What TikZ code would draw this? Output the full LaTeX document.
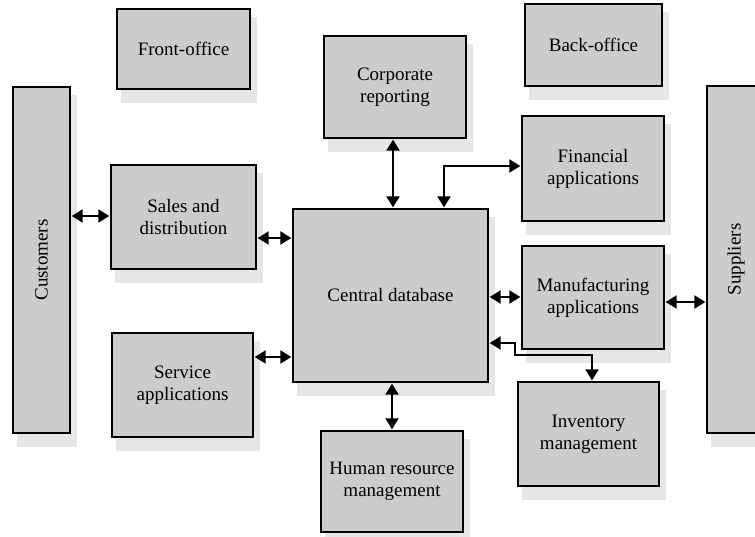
\documentclass[tikz,border=0pt]{standalone}
\usepackage{fontspec}
\setmainfont{Liberation Serif}
\usetikzlibrary{arrows.meta,backgrounds}
\definecolor{boxfill}{HTML}{CCCCCC}
\definecolor{shadowc}{HTML}{E6E6E6}
\newcommand\mkbox[6]{%
  \node[box, minimum width={(#4-#2)*1pt}, minimum height={(#5-#3)*1pt}] (#1) at ({(#2+#4)/2},{(#3+#5)/2}) {#6};
  \begin{scope}[on background layer]
    \fill[shadowc] ([xshift=5pt,yshift=-9pt]#1.north west) rectangle ([xshift=6pt,yshift=-13pt]#1.south east);
  \end{scope}}
\begin{document}
\begin{tikzpicture}[x=1pt,y=-1pt,
  box/.style={draw=black, line width=1.3pt, fill=boxfill, align=center, inner sep=0pt,
    font=\fontsize{19}{22}\selectfont},
  link/.style={line width=2pt, {Triangle[length=11pt,width=13pt]}-{Triangle[length=11pt,width=13pt]},
    shorten <=1pt, shorten >=1pt}]
\useasboundingbox (0,0) rectangle (755,537);

\mkbox{front}{117}{9}{250}{89}{Front-office}
\mkbox{corp}{324}{36}{466}{138}{Corporate\\reporting}
\mkbox{back}{525}{4}{662}{86}{Back-office}
\mkbox{cust}{13}{87}{70}{433}{\rotatebox{90}{Customers}}
\mkbox{sales}{111}{165}{256}{269}{Sales and\\distribution}
\mkbox{fin}{522}{116}{664}{221}{Financial\\applications}
\mkbox{cdb}{293}{209}{488}{382}{Central database}
\mkbox{manuf}{522}{246}{664}{349}{Manufacturing\\applications}
\mkbox{supp}{707}{86}{765}{433}{\rotatebox{90}{Suppliers}}
\mkbox{serv}{112}{333}{253}{437}{Service\\applications}
\mkbox{inv}{518}{382}{659}{486}{Inventory\\management}
\mkbox{hr}{321}{431}{463}{532}{Human resource\\management}

\draw[link] (cust.east |- 0,216) -- (sales.west |- 0,216);
\draw[link] (sales.east |- 0,238) -- (cdb.west |- 0,238);
\draw[link] (serv.east |- 0,357) -- (cdb.west |- 0,357);
\draw[link] (corp.south -| 393,0) -- (cdb.north -| 393,0);
\draw[link] (cdb.south -| 392,0) -- (hr.north -| 392,0);
\draw[link] (cdb.east |- 0,297) -- (manuf.west |- 0,297);
\draw[link] (manuf.east |- 0,302) -- (supp.west |- 0,302);
\draw[link] (cdb.north -| 444,0) |- (fin.west |- 0,166);
\coordinate (k1) at (515,343);
\coordinate (k2) at (515,355);
\coordinate (k3) at (592,355);
\draw[link] (cdb.east |- 0,343) -- (k1) -- (k2) -- (k3) -- (inv.north -| 592,0);
\end{tikzpicture}
\end{document}
